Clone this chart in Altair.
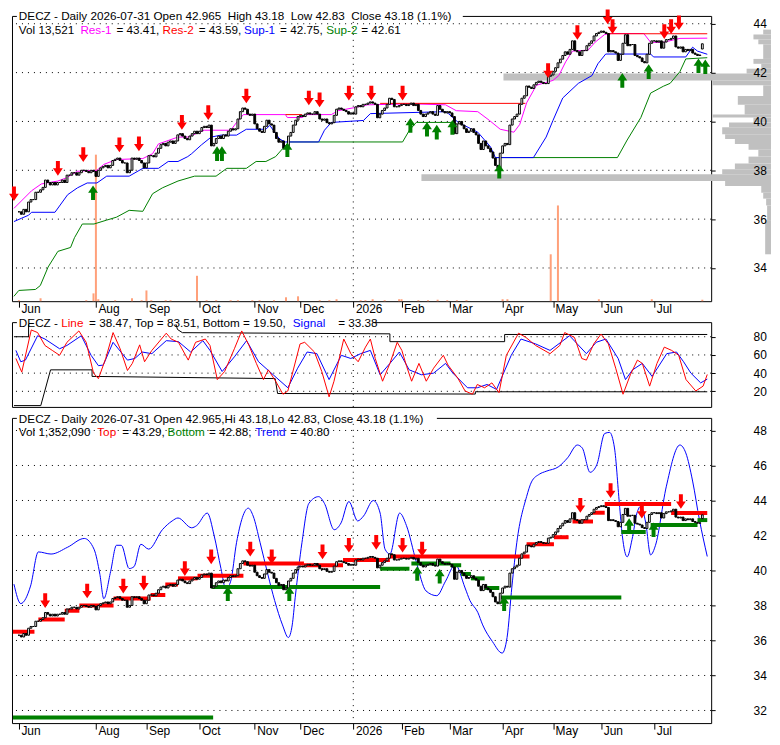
import altair as alt
import pandas as pd

# ---------------- data ----------------
close = [36.3, 36.2, 36.4, 36.3, 36.7, 36.8, 36.8, 37.1, 37.1, 37.2,
         37.3, 37.6, 37.5, 37.4, 37.5, 37.4, 37.5, 37.5, 37.6, 37.5,
         37.8, 37.8, 37.9, 37.9, 37.8, 37.9, 38.0, 38.0, 37.95, 37.9,
         38.0, 37.95, 37.75, 38.0, 38.1, 38.15, 38.2, 38.1, 38.2, 38.4,
         38.45, 38.5, 38.4, 38.3, 38.3, 37.9, 38.0, 38.5, 38.45, 38.5,
         38.4, 38.3, 38.1, 38.3, 38.6, 38.6, 38.55, 38.7, 38.9, 39.05,
         39.1, 39.0, 39.15, 39.2, 39.1, 39.2, 39.45, 39.5, 39.4, 39.3,
         39.25, 39.4, 39.5, 39.6, 39.5, 39.6, 39.75, 39.8, 39.75, 39.85,
         39.0, 39.1, 39.3, 39.4, 39.3, 39.45, 39.4, 39.6, 39.7, 39.65,
         39.7, 40.1, 40.4, 40.55, 40.5, 40.3, 40.25, 40.3, 39.9, 39.7,
         39.6, 39.55, 39.8, 40.05, 39.9, 39.85, 39.55, 39.3, 39.15, 39.2,
         38.9, 39.0, 39.4, 39.55, 39.85, 40.05, 40.2, 40.25, 40.2, 40.3,
         40.35, 40.3, 40.3, 40.4, 40.3, 40.1, 40.05, 40.1, 39.95, 39.9,
         39.95, 40.25, 40.5, 40.55, 40.5, 40.45, 40.4, 40.3, 40.35, 40.3,
         40.6, 40.65, 40.6, 40.7, 40.7, 40.75, 40.8, 40.75, 40.7, 40.15,
         40.3, 40.45, 40.55, 40.7, 40.95, 40.9, 40.6, 40.6, 40.65, 40.7,
         40.7, 40.65, 40.7, 40.75, 40.65, 40.7, 40.45, 40.3, 40.2, 40.3,
         40.35, 40.4, 40.3, 40.25, 40.65, 40.5, 40.4, 40.35, 40.4, 40.35,
         40.2, 39.5, 39.9, 40.0, 39.85, 39.7, 39.55, 39.6, 39.7, 39.55,
         39.45, 39.1, 38.85, 39.2, 39.0, 38.9, 38.75, 38.5, 38.2, 38.1,
         38.7, 39.0, 39.1, 39.05, 39.85, 40.1, 40.2, 40.3, 40.7, 40.95,
         41.05, 41.45, 41.4, 41.35, 41.5, 41.6, 41.65, 41.6, 41.55, 41.55,
         41.85, 41.9, 42.05, 42.2, 42.4, 42.55, 42.7, 42.85, 42.75, 42.95,
         43.3, 42.9, 42.85, 42.7, 42.9, 42.9, 43.1, 43.2, 43.3, 43.5,
         43.6, 43.65, 43.7, 43.65, 43.6, 42.85, 42.9, 42.85, 42.8, 42.5,
         42.75, 43.2, 43.55, 43.1, 43.15, 43.15, 42.7, 42.65, 42.6, 42.45,
         42.4, 42.75, 43.2, 43.3, 43.3, 43.25, 43.3, 43.0, 43.25, 43.35,
         43.35, 43.4, 43.5, 43.05, 43.0, 43.05, 42.85, 42.95, 42.9, 42.95,
         42.8, 42.75, 42.7, 42.72, 43.18]
last_open = 42.965

month_idx = [0, 32, 53, 75, 98, 117, 139, 159, 179, 201, 222, 242, 264]
month_lbl = ["Jun", "Aug", "Sep", "Oct", "Nov", "Dec", "2026", "Feb", "Mar", "Apr", "May", "Jun", "Jul"]
year_idx = [139]

ticks1 = [34, 36, 38, 40, 42, 44]
ticks2 = [20, 40, 60, 80]
ticks3 = [32, 34, 36, 38, 40, 42, 44, 46, 48]

vol_i = [0, 9, 28, 31, 32, 33, 40, 47, 51, 53, 55, 61, 63, 74, 78, 82, 88, 91, 97, 100, 106,
         111, 116, 125, 129, 132, 142, 144, 147, 152, 158, 159, 166, 170, 174, 178, 182, 186,
         201, 203, 221, 224, 241, 263, 284]
vol_v = [10, 30, 10, 80, 1500, 20, 10, 30, 10, 110, 10, 10, 10, 260, 10, 10, 10, 10, 10, 10, 10,
         40, 50, 10, 10, 20, 10, 10, 20, 10, 20, 20, 10, 10, 15, 10, 10, 10,
         20, 20, 480, 980, 20, 20, 15]

prof_hi = [43.76, 43.56, 43.36, 43.16, 42.56, 42.36, 42.16, 41.96, 41.68, 41.48, 41.04, 40.68, 40.28,
           40.16, 39.96, 39.76, 39.48, 39.28, 39.08, 38.84, 38.56, 38.28, 38.04, 37.84, 37.56, 37.36,
           37.08, 36.84, 36.56, 35.96]
prof_lo = [43.56, 43.36, 43.16, 42.56, 42.36, 42.16, 41.96, 41.68, 41.48, 41.04, 40.68, 40.28, 40.16,
           39.96, 39.76, 39.48, 39.28, 39.08, 38.84, 38.56, 38.28, 38.04, 37.84, 37.56, 37.36, 37.08,
           36.84, 36.56, 35.96, 34.56]
prof_w = [8, 18, 13, 8, 18, 10, 25, 274, 60, 8, 34, 27, 60, 18, 43, 50, 47, 37, 23, 13, 23, 37, 50,
          358, 47, 10, 8, 5, 4, 6]

res1_i = [0, 7.2, 11.2, 18, 21.2, 26, 34, 36.8, 42, 52.8, 56.8, 59.2, 67.2, 71.2, 78, 88.8, 91.2, 94,
          111.2, 112, 118, 120, 130, 132.8, 139.2, 144.8, 163.2, 176.8, 181.2, 190, 194.8, 199.2, 204.8,
          207.2, 210, 214, 220.8, 223.2, 226, 228.8, 235.2, 238, 242, 244.8, 258, 260.8, 266, 272.8, 284]
res1_v = [36.44, 37.16, 37.44, 37.56, 37.68, 37.96, 38.0, 38.24, 38.44, 38.48, 38.68, 39.08, 39.36,
          39.36, 39.64, 39.64, 39.96, 40.28, 40.28, 40.16, 40.16, 40.28, 40.28, 40.44, 40.56, 40.68,
          40.72, 40.68, 40.44, 40.4, 40.04, 39.68, 39.56, 39.88, 40.76, 41.48, 41.68, 41.88, 42.44,
          42.88, 42.92, 43.24, 43.56, 43.6, 43.6, 43.24, 43.24, 43.4, 43.41]
res2_x0 = [111.2, 150, 243]
res2_x1 = [118, 209.5, 284]
res2_v = [40.28, 40.74, 43.59]
sup1_i = [0, 3.2, 6, 7.2, 16.8, 22, 26, 30, 34, 38, 47.2, 52.8, 59.2, 63.2, 67.2, 71.2, 72.8, 76.8,
          80.8, 84.8, 91.2, 95.2, 103.2, 104.8, 108.8, 111.2, 124.8, 127.2, 130, 143.2, 146, 176.8,
          178, 182, 186, 190, 195.2, 197.2, 212.8, 218, 220.8, 224.8, 231.2, 236.8, 239.2, 242.4,
          260.8, 262, 275.2, 278, 280, 284]
sup1_v = [35.9, 36.04, 36.16, 36.28, 36.28, 37.0, 37.28, 37.48, 37.48, 37.76, 37.76, 38.08, 38.08,
          38.36, 38.36, 38.56, 38.68, 39.04, 39.36, 39.44, 39.44, 39.68, 39.68, 39.84, 39.28, 39.16,
          39.16, 39.64, 39.96, 40.04, 40.32, 40.4, 40.32, 39.96, 39.76, 39.56, 38.96, 38.52, 38.52,
          39.36, 40.04, 40.96, 41.56, 41.88, 42.36, 42.76, 42.76, 42.64, 42.64, 43.04, 42.88, 42.75]
sup2a_i = [0, 2, 8.8, 10.8, 14, 18, 23.2, 24.8, 28, 32.8, 38, 42, 47.2, 52.8, 56.8, 60.8, 67.2, 74,
           82.8, 87.2, 95.2, 99.2, 103.2, 107.2, 110, 112.8, 159.2, 162, 164.8, 180]
sup2a_v = [32.84, 33.08, 33.12, 33.28, 34.04, 34.68, 34.84, 35.24, 35.8, 35.8, 35.96, 36.08, 36.36,
           36.32, 37.04, 37.28, 37.56, 37.76, 37.76, 38.08, 38.08, 38.36, 38.36, 38.56, 38.88, 39.16,
           39.16, 39.64, 39.96, 39.96]
sup2b_i = [197.2, 247.2, 251.2, 256.8, 260.8, 266, 268.8, 272.8, 275.2, 284]
sup2b_v = [38.52, 38.52, 39.24, 40.16, 41.16, 41.44, 41.56, 42.04, 42.56, 42.61]

p1_dn_i = [0, 18, 28.4, 43.2, 51.2, 68.8, 79.6, 95.2, 120.8, 125.2, 137.2, 146.4, 159.2, 218.8,
           230.8, 243.2, 245.2, 266.4, 269.2, 272.4]
p1_dn_v = [37.04, 38.08, 38.64, 39.04, 39.08, 39.96, 40.36, 41.04, 40.96, 40.88, 41.16, 41.16, 41.16,
           42.08, 43.64, 44.28, 43.88, 43.68, 43.88, 44.04]
p1_up_i = [32.4, 83.2, 85.2, 112, 162.4, 169.2, 173.2, 179.6, 198.8, 249.2, 260, 280.4, 283.2]
p1_up_v = [37.08, 38.68, 38.68, 38.84, 39.84, 39.68, 39.56, 39.76, 37.96, 41.68, 42.04, 42.28, 42.24]

osc_line_i = [0.8, 3.2, 7.1, 9.7, 12.7, 15.7, 18.7, 21.7, 26.6, 29.6, 32.6, 34.6, 37.6, 40.6, 43.5,
              46.5, 48.5, 51.5, 53.5, 56.5, 62.4, 64.4, 67.4, 71.4, 74.4, 78.4, 80.3, 83.3, 86.3, 90.3,
              93.3, 96.3, 99.3, 102.2, 104.2, 107.2, 110.2, 112.2, 117.2, 119.1, 123.1, 126.1, 129.1,
              131.1, 135.1, 138.0, 141.0, 144.0, 146.0, 148.0, 151.0, 154.0, 157.0, 158.9, 160.9,
              162.9, 165.9, 168.9, 171.9, 175.9, 177.8, 181.8, 184.8, 187.8, 189.8, 192.8, 195.8,
              198.7, 201.7, 206.7, 209.7, 213.7, 219.6, 223.6, 225.6, 229.6, 232.6, 234.5, 237.5,
              240.5, 243.5, 246.5, 249.5, 252.5, 255.4, 257.4, 260.4, 263.4, 266.4, 269.4, 272.3,
              275.3, 279.3, 282.3, 284]
osc_line_v = [56.1, 41.1, 87.5, 84.6, 70.4, 65.0, 59.6, 73.9, 86.4, 73.9, 40.0, 33.9, 56.1, 84.6,
              66.8, 42.9, 50.7, 71.1, 52.5, 65.0, 83.9, 77.5, 73.9, 54.3, 73.9, 77.5, 70.4, 32.9, 41.8,
              66.8, 86.4, 70.4, 50.7, 32.9, 43.6, 31.1, 16.8, 20.4, 72.1, 73.9, 63.2, 41.8, 13.9, 31.1,
              77.5, 61.4, 52.5, 68.6, 77.5, 56.1, 31.1, 50.7, 73.9, 65.0, 47.1, 31.1, 50.7, 31.1, 45.4,
              59.6, 48.9, 34.6, 20.4, 16.8, 27.5, 23.9, 29.3, 18.6, 59.6, 83.9, 79.3, 70.4, 61.4, 70.4,
              84.6, 79.3, 56.1, 54.3, 72.1, 82.9, 72.1, 45.4, 16.8, 38.2, 54.3, 50.7, 25.7, 50.7, 68.6,
              65.0, 59.6, 32.9, 20.4, 25.7, 38.5]
osc_sig_i = [0.8, 2.8, 4.7, 9.7, 12.7, 18.7, 21.7, 27.6, 31.6, 34.6, 36.6, 40.6, 46.5, 49.5, 52.5,
             56.5, 62.4, 67.4, 72.4, 77.4, 80.3, 85.3, 90.3, 95.3, 100.2, 106.2, 112.2, 116.2, 120.1,
             124.1, 129.1, 134.1, 138.0, 142.0, 146.0, 150.0, 154.0, 157.9, 161.9, 166.9, 171.9,
             176.8, 179.8, 185.8, 189.8, 193.8, 197.7, 203.7, 207.7, 213.7, 219.6, 227.6, 234.5,
             238.5, 242.5, 247.5, 250.5, 253.4, 257.4, 261.4, 267.4, 271.4, 274.3, 277.3, 281.3, 284]
osc_sig_v = [65.0, 52.5, 54.3, 81.1, 77.5, 66.8, 70.4, 81.1, 59.6, 48.2, 48.9, 73.9, 54.3, 56.1, 63.2,
             61.4, 75.7, 74.6, 63.2, 75.7, 65.0, 41.8, 57.9, 75.7, 52.5, 38.2, 23.9, 45.4, 63.2, 61.4,
             32.9, 59.6, 56.1, 61.4, 65.0, 38.2, 50.7, 63.2, 43.6, 38.2, 40.0, 50.7, 40.0, 23.9, 23.9,
             27.5, 22.1, 59.6, 77.5, 72.1, 65.0, 81.1, 61.4, 73.9, 77.5, 56.1, 32.9, 43.6, 50.7, 36.4,
             61.4, 63.2, 52.5, 40.0, 29.3, 33.4]
osc_top_i = [0, 6, 6, 66, 67, 69, 154, 154, 201, 201, 284]
osc_top_v = [80, 80, 97, 97, 88, 84.5, 83.2, 74.6, 74.6, 82.5, 82.5]
osc_bot_i = [0, 11, 15, 32, 32, 107, 108, 189, 189, 284]
osc_bot_v = [4.3, 4.3, 43.6, 43.6, 36.4, 34.0, 17.6, 17.0, 19.5, 19.5]

trend_i = [0, 2.8, 6.8, 10, 15.2, 22, 28.8, 32.8, 35.2, 36.8, 39.6, 42, 44, 47.2, 49.2, 52, 55.2,
           60.8, 64.8, 67.2, 72.8, 74.8, 79.2, 82, 84.8, 86.8, 88.8, 91.2, 96, 98, 100.8, 104, 106.8,
           110, 112.4, 114, 115.2, 118, 120.8, 124.8, 127.2, 131.2, 134, 137.2, 140.8, 143.2, 147.2,
           150, 152, 154, 158, 160.8, 164.8, 168.8, 173.2, 176.8, 180.8, 184.8, 186.8, 190, 192, 196,
           200, 202, 204, 206, 210, 212, 215.2, 218, 223.2, 226.8, 230.8, 232.8, 236, 238.8, 242,
           244, 246, 248, 249.2, 251.2, 253.2, 255.2, 256.8, 258.8, 260.8, 262.8, 267.2, 272.8,
           275.2, 278, 280.8, 284]
trend_v = [39.22, 38.11, 39.11, 41.06, 40.94, 41.33, 41.83, 41.22, 39.78, 38.39, 39.94, 41.44, 41.44,
           40.11, 40.22, 41.5, 41.22, 42.33, 42.83, 43.0, 42.44, 42.56, 43.28, 42.0, 40.11, 38.94,
           39.39, 41.61, 43.56, 43.11, 41.61, 39.78, 38.28, 36.89, 36.17, 36.89, 38.44, 41.61, 43.83,
           44.22, 43.83, 42.33, 42.72, 43.94, 42.83, 43.11, 44.0, 43.28, 41.22, 40.94, 43.28, 42.56,
           40.5, 38.83, 38.56, 39.39, 40.33, 39.0, 38.28, 37.61, 36.89, 35.94, 35.28, 36.17, 39.11,
           41.61, 44.22, 45.06, 45.5, 45.67, 45.94, 46.44, 47.17, 47.0, 45.61, 46.06, 47.83, 47.89,
           47.0, 43.83, 42.0, 40.78, 41.78, 43.28, 43.67, 42.72, 40.89, 41.44, 44.78, 47.17, 46.72,
           45.11, 42.89, 40.8]
top_x0 = [-0.4, 10, 20.8, 26.8, 40.8, 56, 62, 67.2, 75.2, 94, 118.8, 134.8, 154, 210, 221.2, 228.8,
          237.2, 242, 269.2]
top_x1 = [8.4, 20.8, 26.8, 40.8, 56, 62, 67.2, 75.2, 94, 118.8, 134.8, 154, 211.2, 221.2, 227.2,
          237.2, 242, 269.2, 284]
top_v = [36.5, 37.2, 37.7, 38.0, 38.4, 38.6, 39.2, 39.55, 39.7, 40.4, 40.3, 40.6, 40.8, 41.5, 41.9,
         42.8, 43.3, 43.8, 43.29]
bot_x0 = [-0.4, 81, 150, 162.8, 178.8, 183.2, 187.2, 192.8, 198.8, 248.8, 260.8, 280]
bot_x1 = [81.6, 150, 162, 178.8, 183.2, 187.2, 192.8, 198.8, 248.8, 258.8, 280, 284]
bot_v = [31.6, 39.05, 40.1, 40.4, 40.3, 39.8, 39.55, 39.0, 38.45, 42.2, 42.6, 42.88]
p3_dn_i = [12.8, 30, 44.8, 53.2, 70, 80.8, 96.8, 105.6, 126.4, 137.2, 148.4, 159.2, 167.2, 232,
           244.4, 257.2, 273.2]
p3_dn_v = [38.28, 38.83, 39.11, 39.28, 40.11, 40.78, 41.22, 40.78, 41.06, 41.44, 41.61, 41.44,
           41.22, 43.72, 44.56, 43.39, 43.94]
p3_up_i = [87.6, 112.8, 165.2, 174.4, 200.8, 252, 262]
p3_up_v = [38.67, 38.67, 39.83, 39.67, 38.11, 42.56, 42.33]

# ---------------- layout / style ----------------
W = 701
H1, H2, H3 = 286, 85, 306
XDOM = [-0.8, 285.6]
P1DOM = [32.64, 44.32]
P2DOM = [2.86, 96.07]
P3DOM = [31.28, 48.72]
VOLDOM = [0, 2920]
PROFDOM = [777.3, 61.3]
FONT = "Liberation Sans"
FS = 11.75
AFS = 12
RED, GREEN, BLUE, MAGENTA = "#ff0000", "#008000", "#0000ff", "#ff00ff"
DOWN = "M-0.27,-1L0.27,-1L0.27,0L0.67,0L0,1L-0.67,0L-0.27,0Z"
UP = "M-0.27,1L0.27,1L0.27,0L0.67,0L0,-1L-0.67,0L-0.27,0Z"
ASIZE = 216

lbl_expr = ("[" + ",".join("'%s'" % s for s in month_lbl) + "][indexof(["
            + ",".join(str(v) for v in month_idx) + "], datum.value)]")


def month_axis():
    return alt.Axis(values=month_idx, labelExpr=lbl_expr, grid=False, domain=False, tickSize=6,
                    tickColor="black", tickWidth=1, labelAlign="left", labelBaseline="top",
                    labelPadding=-4, labelOffset=2, labelFontSize=AFS, labelFont=FONT,
                    labelColor="black", labelOverlap=False, labelFlush=False, title=None)


def value_axis(vals):
    return alt.Axis(orient="right", values=vals, format="d", grid=False, domain=False, tickSize=4,
                    tickColor="black", tickWidth=1, labelPadding=38, labelAlign="left",
                    labelFontSize=AFS, labelFont=FONT, labelColor="black", title=None, zindex=1)


def X(field="i", axis=None):
    return alt.X(f"{field}:Q", scale=alt.Scale(domain=XDOM, nice=False, zero=False), axis=axis)


def Y(field, dom, axis=None):
    return alt.Y(f"{field}:Q", scale=alt.Scale(domain=dom, nice=False, zero=False), axis=axis)


def xy(i, v):
    return pd.DataFrame({"i": i, "v": v})


def grid(ticks, dom):
    h = alt.Chart(pd.DataFrame({"v": ticks})).mark_rule(
        color="black", strokeDash=[1, 5], strokeWidth=1).encode(y=Y("v", dom))
    v = alt.Chart(pd.DataFrame({"i": year_idx})).mark_rule(
        color="black", strokeDash=[1, 5], strokeWidth=1).encode(x=X("i"))
    return [h, v]


def line(i, v, dom, color, width=1, clip=False, interp="linear"):
    return alt.Chart(xy(i, v)).mark_line(color=color, strokeWidth=width, clip=clip,
                                         interpolate=interp).encode(x=X("i"), y=Y("v", dom))


def segs(x0, x1, v, dom, color, width):
    d = pd.DataFrame({"a": x0, "b": x1, "v": v})
    return alt.Chart(d).mark_rule(color=color, strokeWidth=width, strokeCap="butt").encode(
        x=X("a"), x2="b:Q", y=Y("v", dom))


def arrows(i, v, dom, shape, color):
    return alt.Chart(xy(i, v)).mark_point(shape=shape, filled=True, size=ASIZE, color=color,
                                          opacity=1, strokeWidth=0).encode(
        x=X("i"), y=Y("v", dom))


opens = [close[0]] + close[:-1]
opens[-1] = last_open
candle_df = pd.DataFrame({"i": list(range(len(close))), "o": opens, "c": close})
candle_df["f"] = ["#ffffff" if c >= o else "#000000" for o, c in zip(opens, close)]


def candles(dom, xaxis, yaxis):
    return alt.Chart(candle_df).mark_bar(size=1.8, stroke="black", strokeWidth=1).encode(
        x=X("i", xaxis), y=Y("o", dom, yaxis), y2="c:Q", fill=alt.Fill("f:N", scale=None))


def txt(s, px, py, color="black"):
    return alt.Chart(pd.DataFrame({"t": [s]})).mark_text(
        align="left", baseline="middle", fontSize=FS, font=FONT, color=color).encode(
        text="t:N", x=alt.value(px), y=alt.value(py))


def mask(x0, x1):
    return alt.Chart(pd.DataFrame({"a": [0]})).mark_rect(color="white").encode(
        x=alt.value(x0), x2=alt.value(x1), y=alt.value(-2), y2=alt.value(2))


NB = "\u00a0"

# ---------------- panel 1 : price, resistance / support ----------------
vol_layer = alt.Chart(xy(vol_i, vol_v)).mark_bar(size=2, color="#ffa07a").encode(
    x=X("i"), y=Y("v", VOLDOM))
prof_df = pd.DataFrame({"z": [0] * len(prof_w), "w": prof_w, "lo": prof_lo, "hi": prof_hi})
prof_layer = alt.Chart(prof_df).mark_rect(color="#c0c0c0").encode(
    x=alt.X("z:Q", scale=alt.Scale(domain=PROFDOM, nice=False, zero=False), axis=None),
    x2="w:Q", y=Y("lo", P1DOM), y2="hi:Q")
sup2_df = pd.concat([xy(sup2a_i, sup2a_v).assign(s="a"), xy(sup2b_i, sup2b_v).assign(s="b")])
sup2_layer = alt.Chart(sup2_df).mark_line(color=GREEN, strokeWidth=1).encode(
    x=X("i"), y=Y("v", P1DOM), detail="s:N")

p1_layers = grid(ticks1, P1DOM) + [
    vol_layer, prof_layer, sup2_layer,
    line(sup1_i, sup1_v, P1DOM, BLUE),
    line(res1_i, res1_v, P1DOM, MAGENTA),
    segs(res2_x0, res2_x1, res2_v, P1DOM, RED, 1),
    candles(P1DOM, month_axis(), value_axis(ticks1)),
    arrows(p1_dn_i, p1_dn_v, P1DOM, DOWN, RED),
    arrows(p1_up_i, p1_up_v, P1DOM, UP, GREEN),
    mask(4.9, 452),
    txt("DECZ - Daily 2026-07-31 Open 42.965" + NB * 2 + "High 43.18" + NB * 2 + "Low 42.83"
        + NB * 2 + "Close 43.18 (1.1%)", 6.9, 0),
    txt("Vol 13,521", 6.9, 14), txt("Res-1", 68.6, 14, MAGENTA), txt("= 43.41,", 104.8, 14),
    txt("Res-2", 151, 14, RED), txt("= 43.59,", 187.2, 14), txt("Sup-1", 232.5, 14, BLUE),
    txt("= 42.75,", 268.8, 14), txt("Sup-2", 315, 14, GREEN), txt("= 42.61", 350.2, 14),
]
p1 = alt.layer(*p1_layers).properties(width=W, height=H1).resolve_scale(
    x="independent", y="independent")

# ---------------- panel 2 : oscillator ----------------
p2_layers = grid(ticks2, P2DOM) + [
    alt.Chart(xy(osc_top_i, osc_top_v)).mark_line(color="black", strokeWidth=1, clip=True).encode(
        x=X("i"), y=Y("v", P2DOM, value_axis(ticks2))),
    line(osc_bot_i, osc_bot_v, P2DOM, "black", clip=True),
    line(osc_sig_i, osc_sig_v, P2DOM, BLUE),
    line(osc_line_i, osc_line_v, P2DOM, RED),
    mask(4.9, 363),
    txt("DECZ -", 6.9, 1), txt("Line", 49.4, 1, RED),
    txt("= 38.47, Top = 83.51, Bottom = 19.50,", 77.3, 1),
    txt("Signal", 281.5, 1, BLUE), txt("= 33.38", 327, 1),
]
p2 = alt.layer(*p2_layers).properties(width=W, height=H2).resolve_scale(
    x="independent", y="independent")

# ---------------- panel 3 : trend, tops / bottoms ----------------
p3_layers = grid(ticks3, P3DOM) + [
    line(trend_i, trend_v, P3DOM, BLUE, interp="monotone"),
    segs(top_x0, top_x1, top_v, P3DOM, RED, 4),
    segs(bot_x0, bot_x1, bot_v, P3DOM, GREEN, 4),
    candles(P3DOM, month_axis(), value_axis(ticks3)),
    arrows(p3_dn_i, p3_dn_v, P3DOM, DOWN, RED),
    arrows(p3_up_i, p3_up_v, P3DOM, UP, GREEN),
    mask(4.9, 426),
    txt("DECZ - Daily 2026-07-31 Open 42.965,Hi 43.18,Lo 42.83, Close 43.18 (1.1%)", 6.9, 1),
    txt("Vol 1,352,090", 6.9, 13.7), txt("Top", 85.5, 13.7, RED), txt("= 43.29,", 110.5, 13.7),
    txt("Bottom", 156, 13.7, GREEN), txt("= 42.88,", 197.5, 13.7), txt("Trend", 244, 13.7, BLUE),
    txt("= 40.80", 279, 13.7),
]
p3 = alt.layer(*p3_layers).properties(width=W, height=H3).resolve_scale(
    x="independent", y="independent")

chart = alt.vconcat(
    p1, alt.vconcat(p2, p3, spacing=11, bounds="flush"), spacing=21, bounds="flush"
).properties(padding=0).configure(font=FONT).configure_view(stroke="black", strokeWidth=1)

chart.save("out.html", embed_options={"renderer": "svg", "actions": False})
